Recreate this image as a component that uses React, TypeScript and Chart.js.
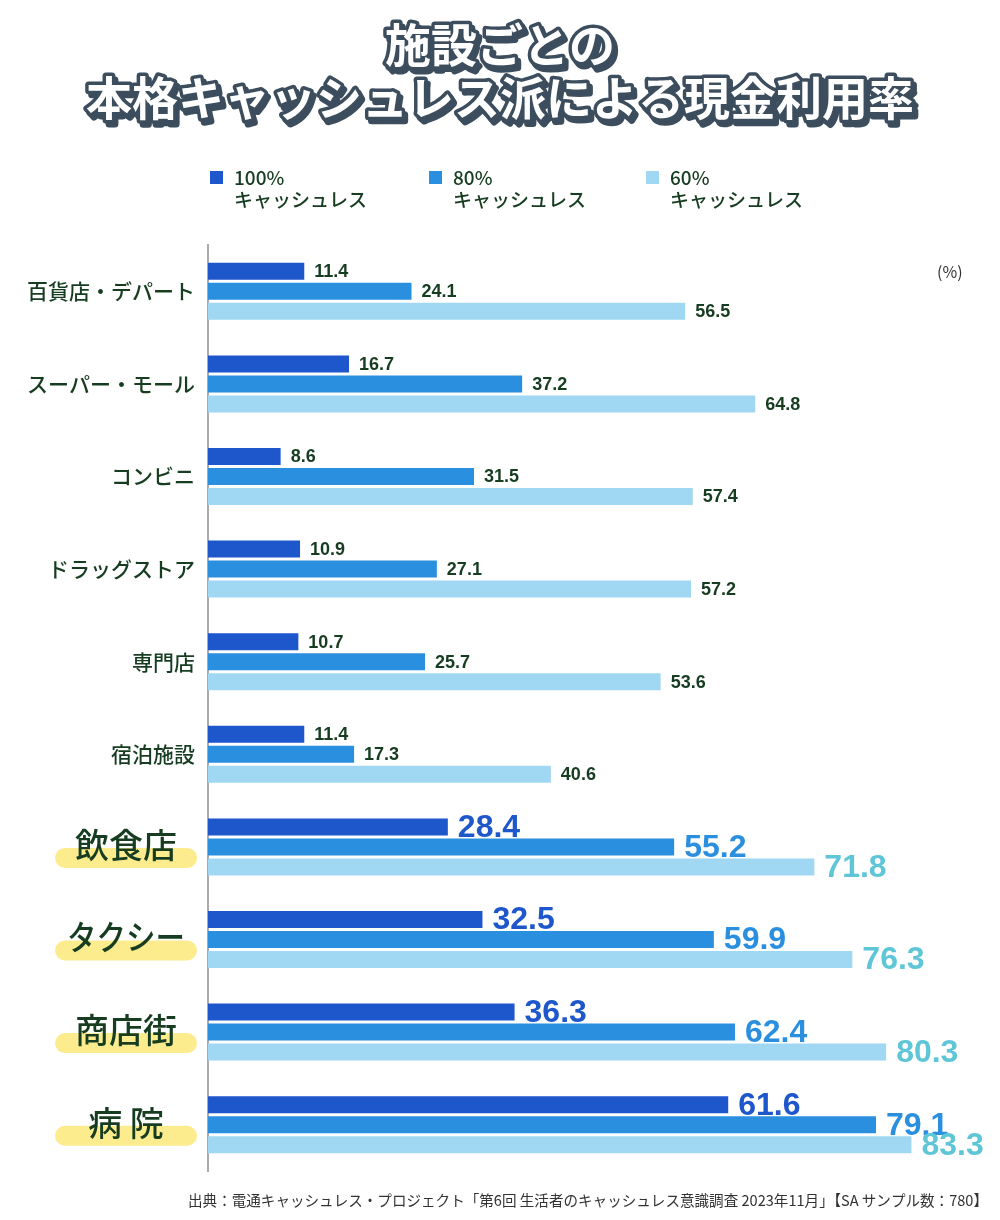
import React, { useEffect, useRef } from "react";
import { Chart, registerables } from "chart.js";

Chart.register(...registerables);

const categories = [
  "百貨店・デパート",
  "スーパー・モール",
  "コンビニ",
  "ドラッグストア",
  "専門店",
  "宿泊施設",
  "飲食店",
  "タクシー",
  "商店街",
  "病 院",
];
const highlightCategories = ["飲食店", "タクシー", "商店街", "病 院"];

const seriesLabels = [
  ["100%", "キャッシュレス"],
  ["80%", "キャッシュレス"],
  ["60%", "キャッシュレス"],
];
const cashless100 = [11.4, 16.7, 8.6, 10.9, 10.7, 11.4, 28.4, 32.5, 36.3, 61.6];
const cashless80 = [24.1, 37.2, 31.5, 27.1, 25.7, 17.3, 55.2, 59.9, 62.4, 79.1];
const cashless60 = [56.5, 64.8, 57.4, 57.2, 53.6, 40.6, 71.8, 76.3, 80.3, 83.3];

const titleLines = ["施設ごとの", "本格キャッシュレス派による現金利用率"];
const unitLabel = "(%)";
const sourceText =
  "出典：電通キャッシュレス・プロジェクト「第6回 生活者のキャッシュレス意識調査 2023年11月」【SA サンプル数：780】";

const barColors = ["#1e56cc", "#2b8fe0", "#a0d7f3"];
const bigLabelColors = ["#1e56cc", "#2b8fe0", "#5ec6d6"];
const textGreen = "#173d21";
const titleDark = "#3c4d5d";
const JP = "'Noto Sans CJK JP', 'Noto Sans', sans-serif";
const NUM = "'Liberation Sans', Arial, sans-serif";

const isHL = (i: number) => highlightCategories.includes(categories[i]);

const decorPlugin = {
  id: "decor",
  beforeDraw(chart: any) {
    const ctx = chart.ctx;
    ctx.save();
    // Title
    ctx.font = `bold 46px ${JP}`;
    ctx.textAlign = "center";
    ctx.textBaseline = "middle";
    ctx.lineJoin = "round";
    const ty = [45, 98];
    titleLines.forEach((t, k) => {
      const x = 500;
      const y = ty[k];
      ctx.lineWidth = 7;
      ctx.strokeStyle = titleDark;
      ctx.fillStyle = titleDark;
      ctx.strokeText(t, x + 3, y + 4);
      ctx.fillText(t, x + 3, y + 4);
      ctx.strokeText(t, x, y);
      ctx.fillStyle = "#ffffff";
      ctx.fillText(t, x, y);
    });

    // Legend
    const lx = [210, 429, 646];
    chart.data.datasets.forEach((ds: any, di: number) => {
      ctx.fillStyle = ds.backgroundColor;
      ctx.fillRect(lx[di], 171, 13, 13);
      ctx.fillStyle = textGreen;
      ctx.font = `500 19px ${JP}`;
      ctx.textAlign = "left";
      ctx.textBaseline = "middle";
      const lines: string[] = ds.label.split("\n");
      lines.forEach((ln, li) => ctx.fillText(ln, lx[di] + 24, 178 + li * 22));
    });

    // Unit label
    ctx.font = `16px ${JP}`;
    ctx.fillStyle = "#333333";
    ctx.textAlign = "left";
    ctx.textBaseline = "middle";
    ctx.fillText(unitLabel, 937, 272);

    // Source
    ctx.font = `15px ${JP}`;
    ctx.fillStyle = "#333333";
    const w = ctx.measureText(sourceText).width;
    const sx = 800 / w;
    ctx.save();
    ctx.translate(988, 1200);
    ctx.scale(sx, 1);
    ctx.textAlign = "right";
    ctx.fillText(sourceText, 0, 0);
    ctx.restore();

    // Highlight pills behind category labels
    const yScale = chart.scales.y;
    ctx.fillStyle = "#fdec8e";
    categories.forEach((c, i) => {
      if (!isHL(i)) return;
      const cy = yScale.getPixelForTick(i);
      const x0 = 55, x1 = 197, y0 = cy + 1, h = 20, r = 10;
      ctx.beginPath();
      ctx.moveTo(x0 + r, y0);
      ctx.lineTo(x1 - r, y0);
      ctx.arcTo(x1, y0, x1, y0 + r, r);
      ctx.arcTo(x1, y0 + h, x1 - r, y0 + h, r);
      ctx.lineTo(x0 + r, y0 + h);
      ctx.arcTo(x0, y0 + h, x0, y0 + h - r, r);
      ctx.arcTo(x0, y0, x0 + r, y0, r);
      ctx.closePath();
      ctx.fill();
    });
    // Highlighted category labels, centred on the pill
    ctx.font = `500 34px ${JP}`;
    ctx.fillStyle = textGreen;
    ctx.textAlign = "center";
    ctx.textBaseline = "middle";
    categories.forEach((c, i) => {
      if (!isHL(i)) return;
      const cy = yScale.getPixelForTick(i);
      ctx.fillText(c, 126, cy - 2, 118);
    });
    ctx.restore();
  },
  afterDatasetsDraw(chart: any) {
    const ctx = chart.ctx;
    ctx.save();
    ctx.textAlign = "left";
    ctx.textBaseline = "middle";
    chart.data.datasets.forEach((ds: any, di: number) => {
      const meta = chart.getDatasetMeta(di);
      meta.data.forEach((bar: any, i: number) => {
        const v = ds.data[i] as number;
        if (isHL(i)) {
          ctx.font = `bold 32px ${NUM}`;
          ctx.fillStyle = bigLabelColors[di];
          ctx.fillText(v.toFixed(1), bar.x + 10, bar.y + 1);
        } else {
          ctx.font = `bold 18px ${NUM}`;
          ctx.fillStyle = textGreen;
          ctx.fillText(v.toFixed(1), bar.x + 10, bar.y + 1);
        }
      });
    });
    ctx.restore();
  },
};

export default function App() {
  const ref = useRef<HTMLCanvasElement | null>(null);
  useEffect(() => {
    document.body.style.margin = "0";
    const canvas = ref.current!;
    const seriesData = [cashless100, cashless80, cashless60];
    const chart = new Chart(canvas, {
      type: "bar",
      data: {
        labels: categories,
        datasets: seriesData.map((d, k) => ({
          label: seriesLabels[k].join("\n"),
          data: d,
          backgroundColor: barColors[k],
          borderWidth: 0,
          categoryPercentage: 0.648,
          barPercentage: 0.85,
        })),
      },
      options: {
        indexAxis: "y",
        responsive: false,
        animation: false,
        layout: { padding: { top: 245, bottom: 49, left: 0, right: 10 } },
        plugins: {
          legend: { display: false },
          title: { display: false },
          tooltip: { enabled: false },
        },
        scales: {
          x: { display: false, min: 0, max: 92.6 },
          y: {
            afterFit: (s: any) => {
              s.width = 208;
            },
            grid: { display: false, drawTicks: false },
            border: { display: true, color: "#aaaaaa", width: 2 },
            ticks: {
              padding: 13,
              color: (c: any) => (isHL(c.index) ? "rgba(0,0,0,0)" : textGreen),
              font: { family: JP, size: 21, weight: "500" },
            },
          },
        },
      },
      plugins: [decorPlugin],
    } as any);
    return () => chart.destroy();
  }, []);
  return (
    <div style={{ width: 1000, height: 1220, background: "#ffffff" }}>
      <canvas ref={ref} width={1000} height={1220} style={{ display: "block" }} />
    </div>
  );
}
